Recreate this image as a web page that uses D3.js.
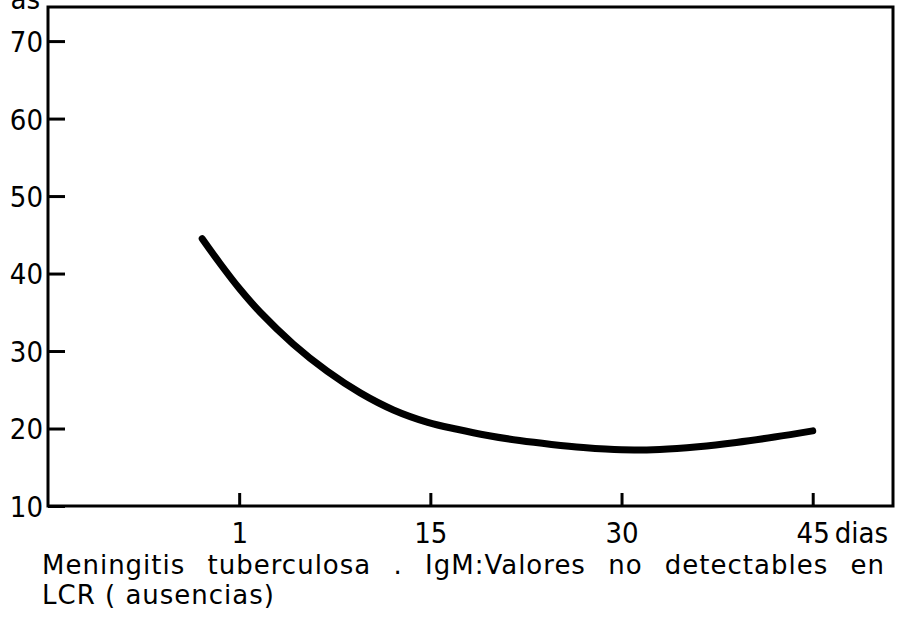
<!DOCTYPE html>
<html>
<head>
<meta charset="utf-8">
<script src="https://cdn.jsdelivr.net/npm/d3@7"></script>
<style>
  body { margin: 0; background: #fff; }
  svg text { font-family: "DejaVu Sans Condensed", "DejaVu Sans", sans-serif; fill: #000; }
  svg text.caption { font-family: "DejaVu Sans", sans-serif; }
</style>
</head>
<body>
<div class="vis-chart"></div>
<script>
// curve: day (tick "1" sits at day 0) and value
const curveDays = [-2.9, -1.5, 0, 1.65, 4.24, 6.9, 9.5, 12.1, 14.8, 17.1, 19.5, 22, 24.5, 27, 30, 33, 36, 39, 42, 45];
const curveValues = [44.5, 41.3, 38.1, 35.0, 30.9, 27.4, 24.6, 22.4, 20.8, 19.9, 19.1, 18.45, 17.95, 17.55, 17.25, 17.3, 17.65, 18.2, 18.9, 19.7];

const xTicks = [0, 15, 30, 45];
const xTickLabels = ["1", "15", "30", "45"];
const yTicks = [10, 20, 30, 40, 50, 60, 70];
const xUnit = "dias";
const captionLines = [
  "Meningitis tuberculosa . IgM:Valores no detectables en",
  "LCR ( ausencias)"
];

const draw = () => {
  const W = 900, H = 617;
  const margin = { top: 7, right: 7, bottom: 111, left: 48 };
  const width = W - margin.left - margin.right;
  const height = H - margin.top - margin.bottom;

  const root = d3.select(".vis-chart").append("svg")
    .attr("width", W)
    .attr("height", H);

  const svg = root.append("g")
    .attr("transform", "translate(" + margin.left + "," + margin.top + ")");

  let x = d3.scaleLinear().domain([-15, 51.3]).range([0, width]);
  let y = d3.scaleLinear().domain([10, 74.4]).range([height, 0]);

  // frame
  svg.append("rect")
    .attr("x", 0).attr("y", 0)
    .attr("width", width).attr("height", height)
    .attr("fill", "none")
    .attr("stroke", "#000")
    .attr("stroke-width", 3);

  // y axis, ticks pointing inward
  const yAxis = svg.append("g")
    .call(d3.axisLeft(y).tickValues(yTicks).tickSizeInner(-17).tickSizeOuter(0).tickPadding(5));
  yAxis.select(".domain").remove();
  yAxis.selectAll(".tick line").attr("stroke", "#000").attr("stroke-width", 3);
  yAxis.selectAll(".tick text")
    .attr("font-size", 29)
    .attr("font-family", null)
    .attr("dy", "0.36em");

  // x axis, ticks pointing up
  const xAxis = svg.append("g")
    .attr("transform", "translate(0," + height + ")")
    .call(d3.axisBottom(x).tickValues(xTicks).tickFormat((d, i) => xTickLabels[i])
      .tickSizeInner(-13).tickSizeOuter(0));
  xAxis.select(".domain").remove();
  xAxis.selectAll(".tick line").attr("stroke", "#000").attr("stroke-width", 3);
  xAxis.selectAll(".tick text")
    .attr("font-size", 29)
    .attr("font-family", null)
    .attr("y", 37)
    .attr("dy", null);

  // unit after the last tick label
  svg.append("text")
    .attr("x", x(45) + 22)
    .attr("y", 37 + height)
    .attr("font-size", 29)
    .text(xUnit);

  // the curve
  const pts = curveDays.map((d, i) => [d, curveValues[i]]);
  svg.append("path")
    .datum(pts)
    .attr("fill", "none")
    .attr("stroke", "#000")
    .attr("stroke-width", 7)
    .attr("stroke-linecap", "round")
    .attr("d", d3.line().x(d => x(d[0])).y(d => y(d[1])).curve(d3.curveCatmullRom));

  // cut-off label at top left of the scan
  root.append("text")
    .attr("x", 40)
    .attr("y", 9)
    .attr("text-anchor", "end")
    .attr("font-size", 29)
    .text("as");

  // caption, first line justified to the frame width
  const cap = root.selectAll(".caption")
    .data(captionLines)
    .enter()
    .append("text")
    .attr("class", "caption")
    .attr("x", 42)
    .attr("y", (d, i) => 574 + i * 30)
    .attr("font-size", 26)
    .attr("letter-spacing", 1)
    .text(d => d);

  const first = cap.filter((d, i) => i === 0);
  const natural = first.node().getComputedTextLength();
  const gaps = captionLines[0].split(" ").length - 1;
  first.attr("word-spacing", Math.max(0, (885 - 42 - natural) / gaps));
};

draw();
</script>
</body>
</html>
